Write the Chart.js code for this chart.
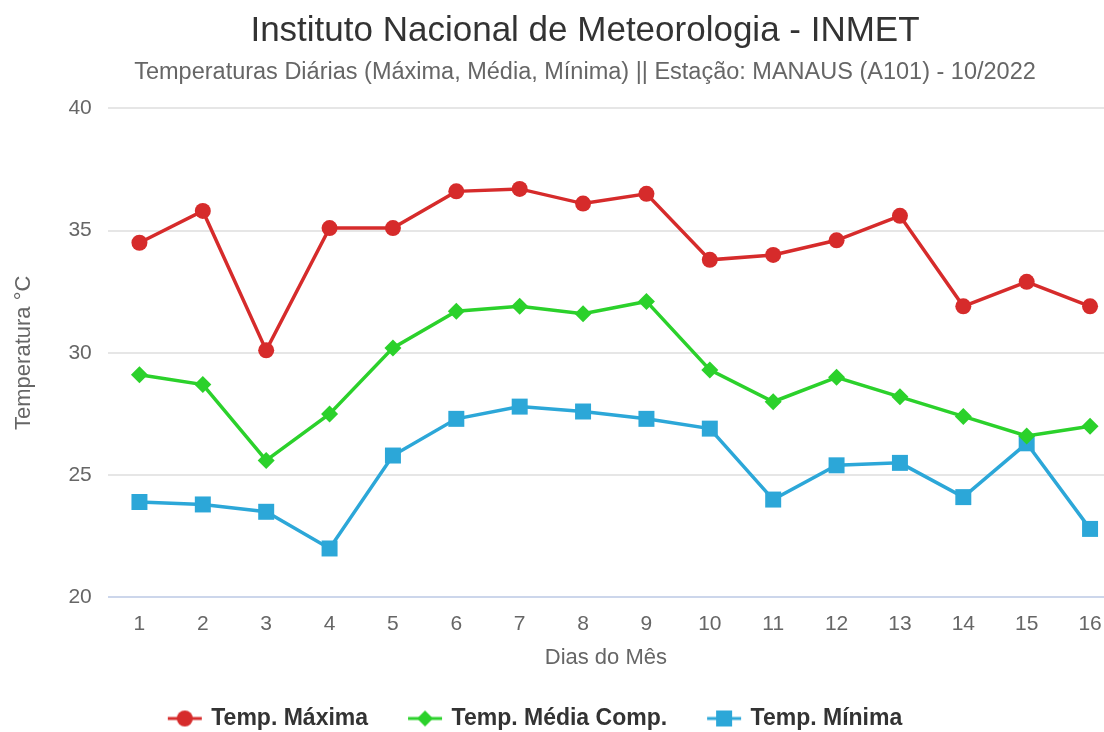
<!DOCTYPE html>
<html>
<head>
<meta charset="utf-8">
<script src="https://cdn.jsdelivr.net/npm/chart.js@4.4.0/dist/chart.umd.min.js"></script>
<style>
  html, body { margin: 0; padding: 0; background: #fff; overflow: hidden; }
  #wrap { width: 1104px; height: 732px; }
</style>
</head>
<body>
<div id="wrap"><canvas id="chart" width="1104" height="732"></canvas></div>
<script>
const days = [1, 2, 3, 4, 5, 6, 7, 8, 9, 10, 11, 12, 13, 14, 15, 16];
const tempMax = [34.5, 35.8, 30.1, 35.1, 35.1, 36.6, 36.7, 36.1, 36.5, 33.8, 34.0, 34.6, 35.6, 31.9, 32.9, 31.9];
const tempMed = [29.1, 28.7, 25.6, 27.5, 30.2, 31.7, 31.9, 31.6, 32.1, 29.3, 28.0, 29.0, 28.2, 27.4, 26.6, 27.0];
const tempMin = [23.9, 23.8, 23.5, 22.0, 25.8, 27.3, 27.8, 27.6, 27.3, 26.9, 24.0, 25.4, 25.5, 24.1, 26.3, 22.8];
const yTicks = [20, 25, 30, 35, 40];

const FONT = "'Liberation Sans', Arial, sans-serif";

// legend symbol: short line with the marker in the middle
function legendIcon(color, style) {
    const c = document.createElement('canvas');
    c.width = 36; c.height = 20;
    const g = c.getContext('2d');
    g.strokeStyle = color;
    g.fillStyle = color;
    g.lineWidth = 3;
    g.beginPath(); g.moveTo(1, 10); g.lineTo(35, 10); g.stroke();
    g.beginPath();
    if (style === 'circle') {
        g.arc(18, 10, 8, 0, Math.PI * 2);
    } else if (style === 'rectRot') {
        g.moveTo(18, 2); g.lineTo(26, 10); g.lineTo(18, 18); g.lineTo(10, 10); g.closePath();
    } else {
        g.rect(10, 2, 16, 16);
    }
    g.fill();
    return c;
}

const series = [
    { label: 'Temp. Máxima', data: tempMax, color: '#d62b2b', style: 'circle', radius: 8 },
    { label: 'Temp. Média Comp.', data: tempMed, color: '#2bd12b', style: 'rectRot', radius: 8.5 },
    { label: 'Temp. Mínima', data: tempMin, color: '#2ca7d8', style: 'rect', radius: 11.3 }
];

// the titles sit a bit right of centre and the legend a bit left, as in the original
const nudgeBlocks = {
    id: 'nudgeBlocks',
    afterLayout(chart) {
        chart.boxes.forEach(b => {
            if (b.position === 'top') { b.left += 33; b.right += 33; }
            if (b === chart.legend) { b.left -= 16; b.right -= 16; }
        });
    }
};

new Chart(document.getElementById('chart').getContext('2d'), {
    type: 'line',
    data: {
        datasets: series.map(s => ({
            label: s.label,
            data: s.data.map((v, i) => ({ x: days[i], y: v })),
            borderColor: s.color,
            backgroundColor: s.color,
            borderWidth: 3.5,
            pointStyle: s.style,
            pointRadius: s.radius,
            pointBorderWidth: 0,
            tension: 0,
            clip: false
        }))
    },
    plugins: [nudgeBlocks],
    options: {
        responsive: false,
        animation: false,
        layout: { autoPadding: false, padding: { left: 0, right: 0, top: 10, bottom: -8 } },
        plugins: {
            title: {
                display: true,
                text: 'Instituto Nacional de Meteorologia - INMET',
                color: '#333333',
                font: { family: FONT, size: 35, weight: 'normal' },
                padding: { top: 0, bottom: 6 }
            },
            subtitle: {
                display: true,
                text: 'Temperaturas Diárias (Máxima, Média, Mínima) || Estação: MANAUS (A101) - 10/2022',
                color: '#666666',
                font: { family: FONT, size: 23.5 },
                padding: { top: 0, bottom: 22 }
            },
            legend: {
                position: 'bottom',
                labels: {
                    color: '#333333',
                    font: { family: FONT, size: 23, weight: 'bold' },
                    padding: 42,
                    usePointStyle: true,
                    pointStyleWidth: 30,
                    generateLabels: (chart) => chart.data.datasets.map((ds, i) => ({
                        text: ds.label,
                        fontColor: '#333333',
                        pointStyle: legendIcon(series[i].color, series[i].style),
                        datasetIndex: i,
                        hidden: false,
                        lineWidth: 0,
                        strokeStyle: 'transparent',
                        fillStyle: 'transparent'
                    }))
                }
            },
            tooltip: { enabled: false }
        },
        scales: {
            x: {
                type: 'linear',
                min: 0.5,
                max: 16.22,
                afterBuildTicks: (axis) => { axis.ticks = days.map(d => ({ value: d })); },
                afterFit: (axis) => { axis.paddingLeft = 0; axis.paddingRight = 0; },
                grid: { display: false },
                border: { display: false },
                ticks: {
                    color: '#666666',
                    font: { family: FONT, size: 21 },
                    padding: 6,
                    autoSkip: false,
                    maxRotation: 0
                },
                title: {
                    display: true,
                    text: 'Dias do Mês',
                    color: '#666666',
                    font: { family: FONT, size: 22 },
                    padding: { top: 2, bottom: -6 }
                }
            },
            y: {
                min: 20,
                max: 40,
                afterBuildTicks: (axis) => { axis.ticks = yTicks.map(v => ({ value: v })); },
                grid: {
                    color: (ctx) => ctx.tick && ctx.tick.value === 20 ? '#ccd6eb' : '#e6e6e6',
                    lineWidth: 2,
                    drawTicks: false
                },
                border: { display: false },
                ticks: {
                    color: '#666666',
                    font: { family: FONT, size: 21 },
                    padding: 16
                },
                title: {
                    display: true,
                    text: 'Temperatura °C',
                    color: '#666666',
                    font: { family: FONT, size: 22 },
                    padding: { top: 11, bottom: 15 }
                }
            }
        }
    }
});
</script>
</body>
</html>
